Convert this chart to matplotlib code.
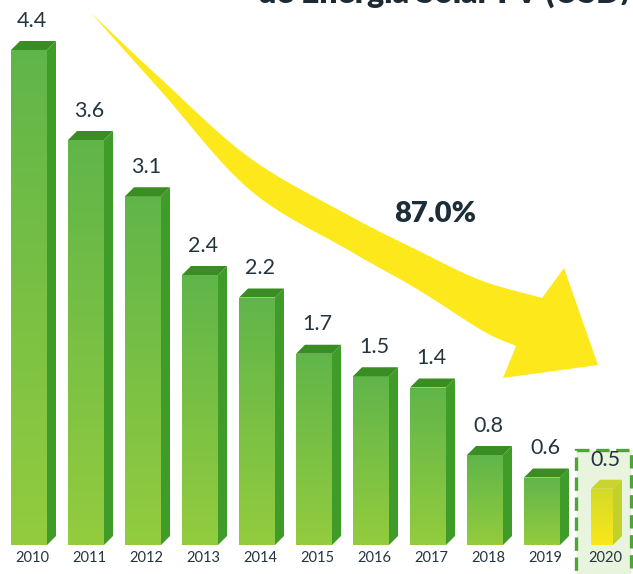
import numpy as np
import matplotlib
matplotlib.use("Agg")
import matplotlib.pyplot as plt
from matplotlib.patches import Rectangle, Polygon
from matplotlib.colors import LinearSegmentedColormap

years = ["2010", "2011", "2012", "2013", "2014", "2015", "2016", "2017", "2018", "2019", "2020"]
values = [4.4, 3.6, 3.1, 2.4, 2.2, 1.7, 1.5, 1.4, 0.8, 0.6, 0.5]
value_labels = ["4.4", "3.6", "3.1", "2.4", "2.2", "1.7", "1.5", "1.4", "0.8", "0.6", "0.5"]
reduction_label = "87.0%"
title_text = "de Energía Solar FV (USD/kWh)"

W, H = 633, 574
fig = plt.figure(figsize=(W / 100, H / 100), dpi=100)

# main data axes: x = bar index, y = value
ax = fig.add_axes([0, 0, 1, 1])
PX_X = 57.0      # pixels per bar slot
PX_Y = 112.5     # pixels per unit
ax.set_xlim(-11 / PX_X, (W - 11) / PX_X)
ax.set_ylim((545 - H) / PX_Y, 545 / PX_Y)
ax.axis("off")

front_w = 36 / PX_X
dx = 9 / PX_X
dy = 9 / PX_Y

green_cmap = LinearSegmentedColormap.from_list("g", ["#93cc3e", "#60b54a"])
yellow_cmap = LinearSegmentedColormap.from_list("y", ["#fae71a", "#d2da2a"])
grad = np.linspace(0, 1, 256).reshape(-1, 1)

text_col = "#24343f"
n = len(values)
for i, (v, lab, yr) in enumerate(zip(values, value_labels, years)):
    last = (i == n - 1)
    if last:
        x0 = i + 10 / PX_X
        fw = 22 / PX_X
        cmap = yellow_cmap
        side_c, top_c = "#c3d12b", "#c9d42e"
        box = Rectangle((i - 0.088, -0.6), 0.965, 0.6 + 0.844, facecolor="#e9f4df",
                        edgecolor="#4ea434", linewidth=2.4, linestyle=(0, (4, 2)), zorder=1)
        ax.add_patch(box)
    else:
        x0 = i
        fw = front_w
        cmap = green_cmap
        side_c, top_c = "#3f9c28", "#3a8d23"
    front = Rectangle((x0, 0), fw, v, facecolor="none", edgecolor="none", zorder=3)
    ax.add_patch(front)
    im = ax.imshow(grad, cmap=cmap, origin="lower", aspect="auto",
                   extent=(x0, x0 + fw, 0, v), zorder=3, interpolation="bicubic")
    im.set_clip_path(front)
    side = Polygon([(x0 + fw, 0), (x0 + fw + dx, dy), (x0 + fw + dx, v + dy), (x0 + fw, v)],
                   closed=True, facecolor=side_c, edgecolor="none", zorder=3)
    ax.add_patch(side)
    top = Polygon([(x0, v), (x0 + fw, v), (x0 + fw + dx, v + dy), (x0 + dx, v + dy)],
                  closed=True, facecolor=top_c, edgecolor="none", zorder=3)
    ax.add_patch(top)
    cx = x0 + (fw + dx) / 2 - 0.02
    ax.text(cx, v + 0.26, lab, ha="center", va="center", fontsize=15.5,
            family="Lato", fontweight="normal", color=text_col, zorder=5)
    ax.text(cx, -0.116, yr, ha="center", va="center", fontsize=10.5,
            family="Lato", color=text_col, zorder=5)

# overlay axes in pixel coordinates for decoration (arrow, texts)
ov = fig.add_axes([0, 0, 1, 1], zorder=0)
ov.set_xlim(0, W)
ov.set_ylim(H, 0)
ov.axis("off")
ov.patch.set_alpha(0)


def catmull(pts, n=30):
    pts = np.asarray(pts, float)
    p = np.vstack([2 * pts[0] - pts[1], pts, 2 * pts[-1] - pts[-2]])
    out = []
    for k in range(1, len(p) - 2):
        p0, p1, p2, p3 = p[k - 1], p[k], p[k + 1], p[k + 2]
        t = np.linspace(0, 1, n, endpoint=False)[:, None]
        seg = 0.5 * ((2 * p1) + (-p0 + p2) * t + (2 * p0 - 5 * p1 + 4 * p2 - p3) * t ** 2
                     + (-p0 + 3 * p1 - 3 * p2 + p3) * t ** 3)
        out.append(seg)
    out.append(pts[-1][None, :])
    return np.vstack(out)


upper = [(91, 13), (160, 78), (250, 158), (350, 216), (417, 250), (480, 280), (542, 298)]
lower = [(516, 346), (483, 331), (417, 289), (350, 251), (250, 190), (160, 90), (91, 13)]
head = [(564, 268), (598, 365), (503, 378)]
poly = np.vstack([catmull(upper), np.array(head), catmull(lower)])
ov.add_patch(Polygon(poly, closed=True, facecolor="#fde91b", edgecolor="none", zorder=2))

ov.text(435, 214, reduction_label, ha="center", va="center", fontsize=21,
        family="Lato", fontweight="heavy", color="#1b2e3a", zorder=6)
ov.text(258, 2.5, title_text, ha="left", va="baseline", fontsize=23,
        family="Lato", fontweight="heavy", color="#1e2a33", zorder=6, clip_on=False)

fig.savefig("out.png", dpi=100)
